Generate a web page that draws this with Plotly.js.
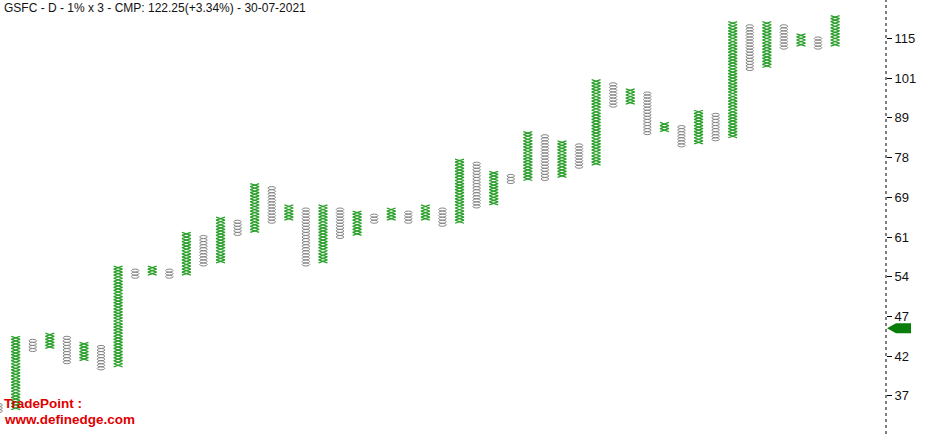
<!DOCTYPE html>
<html><head><meta charset="utf-8">
<script src="https://cdn.plot.ly/plotly-3.0.1.min.js"></script>
<style>html,body{margin:0;padding:0;background:#fff}#chart{width:932px;height:434px}</style>
</head><body><div id="chart"></div>
<script>
// Point & Figure columns (box index: 0 = price 37 tick, 13 boxes per labelled tick)
const colType = ['O','X','O','X','O','X','O','X','O','X','O','X','O','X','O','X','O','X','O','X','O','X','O','X','O','X','O','X','O','X','O','X','O','X','O','X','O','X','O','X','O','X','O','X','O','X','O','X','O','X'];
const colLow  = [-5,-4,15,16,11,12, 9,10,39,40,39,40,43,44,53,54,57,58,43,44,52,53,57,58,57,58,56,57,62,63,70,71,71,72,75,76, 95, 96,86,87,82,83,84, 85,107,108,114,115,114,115];
const colHigh = [-3,19,18,20,19,17,16,42,41,42,41,53,52,58,57,69,68,62,61,62,61,60,59,61,60,62,61,77,76,73,72,86,85,83,82,103,102,100,99,89,88,93,92,122,121,122,121,118,117,124];
const tickBoxes  = [0,13,26,39,52,65,78,91,104,117];
const tickLabels = ['37','42','47','54','61','69','78','89','101','115'];
const currentLevel = 22.1;
const titleText = 'GSFC - D - 1% x 3 - CMP: 122.25(+3.34%) - 30-07-2021';

const WX = 0.26, WO = 0.22;
const yMin = -12.5, yMax = 129.6;
const xs = [], ys = [];
const shapes = [];
colType.forEach((t, k) => {
  const lo = colLow[k], hi = colHigh[k];
  if (t === 'X') {
    for (const dir of [1, -1]) {
      for (let b = lo; b <= hi + 1; b++) {
        const i = b - lo;
        xs.push(k + (i % 2 === 0 ? -dir : dir) * WX);
        ys.push(b - 0.5);
      }
      xs.push(null); ys.push(null);
    }
  } else {
    for (let b = lo; b <= hi; b++) {
      shapes.push({type:'circle', xref:'x', yref:'y', x0:k - WO, x1:k + WO, y0:b - 0.5, y1:b + 0.5,
        line:{color:'#858585', width:1}, fillcolor:'rgba(0,0,0,0)', layer:'above'});
    }
  }
});
// dotted axis line
shapes.push({type:'line', xref:'paper', yref:'paper', x0:1, x1:1, y0:0, y1:1, line:{color:'#000', width:1, dash:'dot'}});
// current level marker
const py = (currentLevel - yMin) / (yMax - yMin);
const hh = 5 / 434;
const px = v => v / 886;
shapes.push({type:'path', xref:'paper', yref:'paper',
  path:`M ${px(887)} ${py} L ${px(896)} ${py + hh} L ${px(911)} ${py + hh} L ${px(911)} ${py - hh} L ${px(896)} ${py - hh} Z`,
  fillcolor:'#0a7d0a', line:{color:'#0a7d0a', width:0}});

const data = [{type:'scatter', mode:'lines', x:xs, y:ys, line:{color:'#2a9f2a', width:1.3}, hoverinfo:'skip', showlegend:false}];
const layout = {
  width:932, height:434, margin:{l:0, r:46, t:0, b:0},
  paper_bgcolor:'#fff', plot_bgcolor:'#fff', showlegend:false,
  title:{text:titleText, xref:'container', yref:'container', x:4/932, xanchor:'left', y:1 - 8/434, yanchor:'middle',
    font:{family:'Liberation Sans, Arial, sans-serif', size:12, color:'#111'}},
  xaxis:{range:[0.082, 51.98], visible:false, fixedrange:true},
  yaxis:{side:'right', range:[yMin, yMax], tickmode:'array', tickvals:tickBoxes, ticktext:tickLabels,
    ticks:'outside', ticklen:5, tickcolor:'#000', tickwidth:1, showgrid:false, zeroline:false, showline:false,
    tickfont:{family:'Liberation Sans, Arial, sans-serif', size:13, color:'#111'}, fixedrange:true},
  shapes:shapes,
  annotations:[
    {text:'TradePoint :', xref:'paper', yref:'paper', x:2/886, y:1 - 403/434, xanchor:'left', yanchor:'middle', showarrow:false,
      font:{family:'Liberation Sans, Arial, sans-serif', size:13.5, color:'#e00000', weight:'bold'}},
    {text:'www.definedge.com', xref:'paper', yref:'paper', x:2/886, y:1 - 419/434, xanchor:'left', yanchor:'middle', showarrow:false,
      font:{family:'Liberation Sans, Arial, sans-serif', size:13.5, color:'#e00000', weight:'bold'}}
  ]
};
Plotly.newPlot('chart', data, layout, {displayModeBar:false, staticPlot:true});
</script>
</body></html>
